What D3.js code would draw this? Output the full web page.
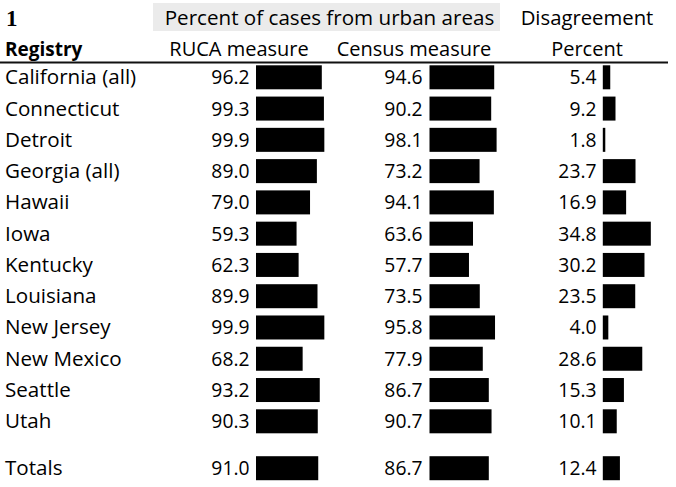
<!DOCTYPE html>
<html><head><meta charset="utf-8">
<script src="https://cdn.jsdelivr.net/npm/d3@7"></script>
<style>body{margin:0;background:#fff;} svg{display:block;}</style>
</head><body>
<script>
const registries = ["California (all)","Connecticut","Detroit","Georgia (all)","Hawaii","Iowa","Kentucky","Louisiana","New Jersey","New Mexico","Seattle","Utah","Totals"];
const rowIndex = [0,1,2,3,4,5,6,7,8,9,10,11,12.5];
const ruca = [96.2,99.3,99.9,89.0,79.0,59.3,62.3,89.9,99.9,68.2,93.2,90.3,91.0];
const census = [94.6,90.2,98.1,73.2,94.1,63.6,57.7,73.5,95.8,77.9,86.7,90.7,86.7];
const disagreement = [5.4,9.2,1.8,23.7,16.9,34.8,30.2,23.5,4.0,28.6,15.3,10.1,12.4];
const figureLabel = "1";
const groupHeader = "Percent of cases from urban areas";
const colHeaders = ["Registry","RUCA measure","Census measure","Disagreement","Percent"];

const W = 676, H = 487;
const font = "'Open Sans', sans-serif";
const fsNum = 19.3, fsLab = 20.6, fsHead = 20.3;
const svg = d3.select("body").append("svg").attr("width", W).attr("height", H);

const rows = registries.map((r,i)=>({name:r, idx:rowIndex[i], ruca:ruca[i], census:census[i], dis:disagreement[i]}));

const y = d3.scaleLinear().domain([0,11]).range([77.3,421.3]);
const xPct = d3.scaleLinear().domain([0,100]).range([0,68.4]);
const xDis = d3.scaleLinear().domain([0,10]).range([0,13.8]);
const barH = 24;

// header band
svg.append("rect").attr("x",153).attr("y",3).attr("width",347).attr("height",28).attr("fill","#ebebeb");
svg.append("text").attr("x",6).attr("y",26).attr("font-family","'Liberation Serif', serif").attr("font-weight","bold").attr("font-size",23).text(figureLabel);
svg.append("text").attr("x",329.5).attr("y",25).attr("text-anchor","middle").attr("font-family",font).attr("font-size",fsHead+0.3).text(groupHeader);
svg.append("text").attr("x",587).attr("y",25).attr("text-anchor","middle").attr("font-family",font).attr("font-size",fsHead).text(colHeaders[3]);
svg.append("text").attr("x",5).attr("y",56).attr("font-family",font).attr("font-weight","bold").attr("font-size",19).text(colHeaders[0]);
svg.append("text").attr("x",239).attr("y",56).attr("text-anchor","middle").attr("font-family",font).attr("font-size",fsHead-0.3).text(colHeaders[1]);
svg.append("text").attr("x",414).attr("y",56).attr("text-anchor","middle").attr("font-family",font).attr("font-size",fsHead-0.3).text(colHeaders[2]);
svg.append("text").attr("x",587).attr("y",56).attr("text-anchor","middle").attr("font-family",font).attr("font-size",fsHead-0.3).text(colHeaders[4]);
svg.append("line").attr("x1",0).attr("x2",668).attr("y1",62.5).attr("y2",62.5).attr("stroke","#111").attr("stroke-width",2);

const g = svg.selectAll("g.row").data(rows).join("g").attr("class","row")
  .attr("transform",d=>`translate(0,${y(d.idx)})`);

g.append("text").attr("x",5).attr("y",7).attr("font-family",font).attr("font-size",fsLab).text(d=>d.name);

const cols = [
  {key:"ruca", textX:249.5, barX:256, scale:xPct},
  {key:"census", textX:422.5, barX:429.5, scale:xPct},
  {key:"dis", textX:596.5, barX:602.8, scale:xDis}
];
cols.forEach(c=>{
  g.append("text").attr("x",c.textX).attr("y",7).attr("text-anchor","end")
    .attr("font-family",font).attr("font-size",fsNum).text(d=>d3.format(".1f")(d[c.key]));
  g.append("rect").attr("x",c.barX).attr("y",-barH/2).attr("height",barH)
    .attr("width",d=>c.scale(d[c.key])).attr("fill","#000");
});
</script>
</body></html>
